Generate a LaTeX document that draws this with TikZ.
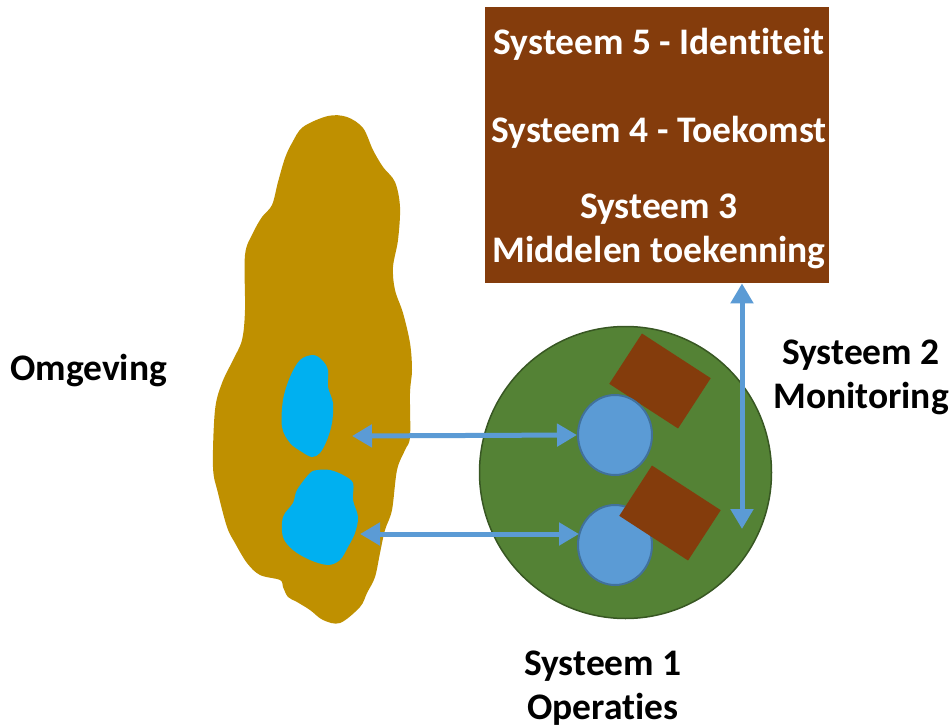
\documentclass[tikz,border=0pt]{standalone}
\usepackage{fontspec}
\setmainfont{Carlito}[Ligatures=NoCommon]
\usetikzlibrary{arrows.meta,shapes.geometric}
\definecolor{mgmt}{HTML}{843C0C}
\definecolor{opsgreen}{HTML}{548235}
\definecolor{opsedge}{HTML}{385723}
\definecolor{unitblue}{HTML}{5B9BD5}
\definecolor{unitedge}{HTML}{41719C}
\definecolor{envgold}{HTML}{BF9000}
\definecolor{envcyan}{HTML}{00B0F0}
\tikzset{
  lbl/.style={font=\fontsize{37.5}{44}\selectfont\bfseries, align=center, inner sep=0pt},
  boxtxt/.style={lbl, text=white},
  unit/.style={ellipse, draw=unitedge, line width=2pt, fill=unitblue, minimum width=74pt, minimum height=80pt, inner sep=0pt},
  ctrl/.style={rectangle, fill=mgmt, minimum width=82pt, minimum height=60pt, inner sep=0pt, rotate=-33},
  flow/.style={draw=unitblue, line width=5pt, {Triangle[length=20pt,width=22pt]}-{Triangle[length=20pt,width=22pt]}},
}
\begin{document}
\begin{tikzpicture}[x=1pt,y=-1pt]
\useasboundingbox (0,0) rectangle (951,728);

% Environment
\fill[envgold] plot[smooth cycle, tension=0.55] coordinates {
  (303,127) (328,116) (347,117) (363,128) (373,150) (383,167) (395,182)
  (400,207) (398,240) (393,267) (395,290) (403,313) (410,343) (412,370)
  (410,393) (410,437) (405,450) (397,470) (392,510) (385,530) (380,553)
  (375,577) (367,593) (360,607) (340,623) (323,620) (310,610) (297,602)
  (288,597) (283,587) (280,580) (260,575) (247,563) (235,543) (227,527)
  (218,493) (213,467) (215,410) (222,383) (233,360) (242,340) (245,310)
  (245,255) (253,233) (262,217) (272,205) (278,182) (285,158) (292,143)};
\fill[envcyan] plot[smooth cycle, tension=0.55] coordinates {
  (313,355) (322,360) (328,370) (328,387) (333,403) (332,423) (327,440)
  (320,453) (312,457) (302,452) (290,443) (282,427) (283,400) (290,377)
  (300,360)};
\fill[envcyan] plot[smooth cycle, tension=0.55] coordinates {
  (330,470) (343,475) (353,483) (353,500) (358,517) (355,533) (348,547)
  (340,560) (328,565) (310,560) (293,550) (283,537) (283,517) (293,503)
  (297,490) (310,473) (318,470)};
\coordinate (envA) at (352,436);
\coordinate (envB) at (360,534);
\node[lbl, anchor=west] (omg) at (10,371) {Omgeving};

% Operations
\node[circle, draw=opsedge, line width=1.5pt, fill=opsgreen, minimum size=292pt, inner sep=0pt] (ops) at (625.5,472.5) {};
\node[ctrl] (c1) at (660,381) {};
\node[unit] (u1) at (615,435) {};
\node[unit] (u2) at (615,545) {};
\node[ctrl] (c2) at (670,513) {};
\node[lbl] (s1) at (603,688) {Systeem 1\\Operaties};

% Management
\node[rectangle, fill=mgmt, minimum width=344pt, minimum height=276pt, inner sep=0pt, anchor=north west] (mgmt) at (485,7) {};
\node[boxtxt] (s5) at (659,44) {Systeem 5 - Identiteit};
\node[boxtxt] (s4) at (659,132) {Systeem 4 - Toekomst};
\node[boxtxt] (s3) at (659,231) {Systeem 3\\Middelen toekenning};
\node[lbl] (s2) at (861,377) {Systeem 2\\Monitoring};
\coordinate (mon) at (742,529);

% Connectors
\draw[flow] (envA) -- (u1.west);
\draw[flow] (envB) -- ([xshift=2pt]u2.west |- envB);
\draw[flow] (mgmt.south -| mon) -- (mon);
\end{tikzpicture}
\end{document}
